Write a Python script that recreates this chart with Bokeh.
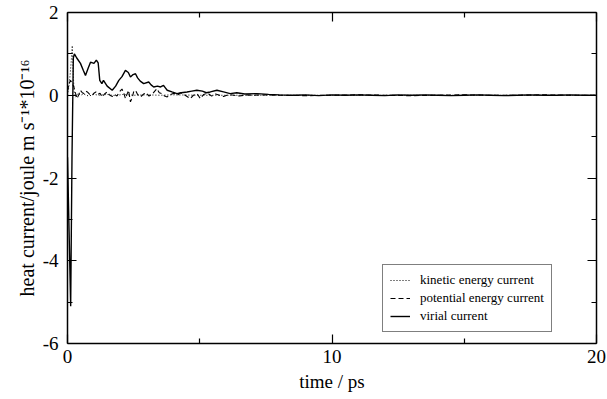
from bokeh.plotting import figure
from bokeh.models import (LinearAxis, FixedTicker, Legend, LegendItem, Range1d,
                          CustomJSTickFormatter)
from bokeh.embed import file_html
from bokeh.resources import INLINE

# ---------------- data ----------------
virial_t = [0.00, 0.06, 0.12, 0.17, 0.22, 0.26, 0.35, 0.49, 0.60, 0.68,
            0.78, 0.87, 1.00, 1.09, 1.16, 1.22, 1.30, 1.36, 1.50, 1.69,
            1.82, 1.94, 2.06, 2.19, 2.30, 2.38, 2.48, 2.57, 2.65, 2.75,
            2.88, 3.07, 3.16, 3.26, 3.40, 3.52, 3.63, 3.70, 3.77, 3.95,
            4.14, 4.30, 4.52, 4.70, 4.89, 5.10, 5.25, 5.40, 5.65, 5.90,
            6.15, 6.40, 6.70, 7.16, 7.60, 8.00, 8.50, 9.00, 9.50, 10.0,
            10.5, 11.0, 11.5, 12.0, 12.5, 13.0, 13.5, 14.0, 14.5, 15.0,
            15.5, 16.0, 16.5, 17.0, 17.5, 18.0, 18.5, 19.0, 19.5, 20.0]
virial_v = [-1.50, -3.30, -5.10, -1.50, 0.90, 1.00, 0.90, 0.77, 0.60, 0.48,
            0.65, 0.80, 0.77, 0.85, 0.78, 0.36, 0.28, 0.36, 0.22, 0.12,
            0.22, 0.36, 0.45, 0.60, 0.55, 0.44, 0.50, 0.52, 0.42, 0.34,
            0.28, 0.32, 0.25, 0.20, 0.22, 0.20, 0.24, 0.18, 0.12, 0.08,
            0.04, 0.06, 0.08, 0.10, 0.12, 0.10, 0.06, 0.08, 0.12, 0.08,
            0.04, 0.06, 0.03, 0.04, 0.02, 0.01, 0.00, 0.01, -0.01, 0.01,
            0.00, 0.01, 0.00, -0.01, 0.01, 0.00, 0.01, 0.00, -0.01, 0.00,
            0.01, 0.00, -0.01, 0.00, 0.01, 0.00, 0.00, 0.01, 0.00, 0.00]

potential_t = [0.00, 0.05, 0.11, 0.18, 0.24, 0.30, 0.36, 0.43, 0.49, 0.56,
               0.62, 0.69, 0.75, 0.84, 0.93, 1.00, 1.07, 1.15, 1.23, 1.31,
               1.40, 1.50, 1.60, 1.70, 1.78, 1.87, 1.96, 2.06, 2.13, 2.19,
               2.25, 2.31, 2.38, 2.45, 2.50, 2.57, 2.65, 2.76, 2.88, 2.98,
               3.08, 3.20, 3.30, 3.38, 3.47, 3.57, 3.67, 3.77, 3.90, 4.02,
               4.15, 4.27, 4.40, 4.52, 4.64, 4.76, 4.90, 5.02, 5.15, 5.30,
               5.45, 5.60, 5.75, 5.90, 6.10, 6.30, 6.50, 6.75, 7.00, 7.50,
               8.00, 9.00, 10.0, 11.0, 12.0, 13.0, 14.0, 15.0, 16.0, 17.0,
               18.0, 19.0, 20.0]
potential_v = [0.10, 0.25, 0.36, 0.30, 0.20, 0.05, -0.08, 0.02, 0.12, 0.06,
               0.04, 0.10, 0.08, 0.02, 0.00, 0.05, 0.08, 0.02, 0.05, -0.04,
               0.03, 0.08, 0.00, -0.03, 0.02, -0.02, 0.08, 0.15, 0.05, -0.08,
               0.02, 0.12, -0.16, -0.05, 0.08, 0.12, 0.02, -0.04, 0.03, 0.06,
               -0.02, 0.02, 0.10, 0.16, 0.06, 0.04, -0.02, -0.04, 0.02, 0.05,
               0.00, 0.06, 0.02, -0.03, -0.08, 0.00, 0.04, -0.08, 0.02, 0.05,
               -0.02, 0.03, 0.00, -0.03, 0.02, 0.00, -0.02, 0.01, 0.00, 0.01,
               0.00, -0.01, 0.00, 0.01, 0.00, -0.01, 0.00, 0.01, 0.00, 0.00,
               0.01, 0.00, 0.00]

kinetic_t = [0.00, 0.05, 0.10, 0.15, 0.18, 0.21, 0.25, 0.30, 0.40, 0.50,
             0.60, 0.80, 1.00, 1.20, 1.50, 1.80, 2.10, 2.50, 3.00, 3.50,
             4.00, 5.00, 6.00, 8.00, 10.0, 12.0, 14.0, 16.0, 18.0, 20.0]
kinetic_v = [0.00, 0.20, 0.50, 0.90, 1.20, 0.60, 0.10, -0.05, 0.05, 0.00,
             0.03, -0.02, 0.02, 0.00, 0.02, -0.01, 0.02, 0.00, 0.01, 0.00,
             0.01, 0.00, 0.00, 0.00, 0.00, 0.00, 0.00, 0.00, 0.00, 0.00]

x_major = [0, 10, 20]
x_minor = [5, 15]
y_major = [-6, -4, -2, 0, 2]
y_minor = [-5, -3, -1, 1]

FONT = "Liberation Serif"

p = figure(width=607, height=399, output_backend="svg", toolbar_location=None,
           x_range=Range1d(0, 20), y_range=Range1d(-6, 2),
           x_axis_location=None, y_axis_location=None,
           min_border_left=67, min_border_right=11,
           min_border_top=12, min_border_bottom=56)
p.outline_line_color = None
p.xgrid.visible = False
p.ygrid.visible = False
p.background_fill_color = "white"
p.border_fill_color = "white"

xt = FixedTicker(ticks=x_major, minor_ticks=x_minor)
yt = FixedTicker(ticks=y_major, minor_ticks=y_minor)

plain = CustomJSTickFormatter(code="return tick.toString();")
blank = CustomJSTickFormatter(code="return '';")


def style(ax, show_labels):
    ax.axis_line_color = "black"
    ax.axis_line_width = 1.5
    ax.major_tick_in = 9
    ax.major_tick_out = 0
    ax.minor_tick_in = 5
    ax.minor_tick_out = 0
    ax.major_tick_line_color = "black"
    ax.minor_tick_line_color = "black"
    ax.major_tick_line_width = 1.2
    ax.minor_tick_line_width = 1.2
    if show_labels:
        ax.formatter = plain
        ax.major_label_text_font = FONT
        ax.major_label_text_font_size = "19px"
        ax.major_label_text_color = "black"
        ax.axis_label_text_font = FONT
        ax.axis_label_text_font_size = "19px"
        ax.axis_label_text_font_style = "normal"
        ax.axis_label_text_color = "black"
    else:
        ax.formatter = blank
        ax.major_label_standoff = 0
        ax.axis_label = None


xb = LinearAxis(ticker=xt, axis_label="time / ps")
style(xb, True)
xb.major_label_standoff = 6
xb.axis_label_standoff = 5
p.add_layout(xb, "below")

yl = LinearAxis(ticker=yt, axis_label="heat current/joule m s\u207b\u00b9*10\u207b\u00b9\u2076")
style(yl, True)
yl.axis_label_text_font_size = "20px"
yl.major_label_standoff = 9
yl.axis_label_standoff = 2
p.add_layout(yl, "left")

xa = LinearAxis(ticker=xt)
style(xa, False)
p.add_layout(xa, "above")

yr = LinearAxis(ticker=yt)
style(yr, False)
p.add_layout(yr, "right")

r_kin = p.line(kinetic_t, kinetic_v, line_color="black", line_width=1.0,
               line_dash="1 2")
r_pot = p.line(potential_t, potential_v, line_color="black", line_width=1.1,
               line_dash="5 3")
r_vir = p.line(virial_t, virial_v, line_color="black", line_width=1.4)

legend = Legend(items=[
    LegendItem(label="kinetic energy current", renderers=[r_kin]),
    LegendItem(label="potential energy current", renderers=[r_pot]),
    LegendItem(label="virial current", renderers=[r_vir]),
], location=(315, 11))
legend.label_text_font = FONT
legend.label_text_font_size = "13px"
legend.label_text_color = "black"
legend.glyph_width = 20
legend.glyph_height = 16
legend.label_height = 16
legend.label_standoff = 10
legend.spacing = 2
legend.padding = 7
legend.margin = 0
legend.border_line_color = "black"
legend.border_line_width = 1
legend.background_fill_color = "white"
legend.background_fill_alpha = 1.0
p.add_layout(legend, "center")

open("out.html", "w").write(file_html(p, INLINE))
